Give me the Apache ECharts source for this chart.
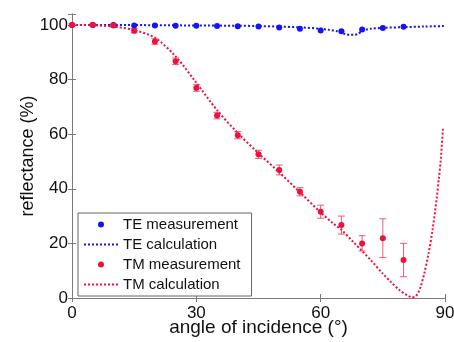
<!DOCTYPE html>
<html>
<head>
<meta charset="utf-8">
<script src="https://cdn.jsdelivr.net/npm/echarts@6/dist/echarts.min.js"></script>
<style>
html,body{margin:0;padding:0;background:#fff;}
#chart{width:454px;height:342px;}
</style>
</head>
<body>
<div id="chart"></div>
<script>
// Measurement angles (degrees)
const measAngles = [0, 5, 10, 15, 20, 25, 30, 35, 40, 45, 50, 55, 60, 65, 70, 75, 80];
// TE measurement (%)
const teMeas = [100, 100, 100, 99.8, 99.8, 99.7, 99.7, 99.6, 99.5, 99.4, 99.1, 98.6, 98.0, 97.7, 98.3, 98.9, 99.3];
// TM measurement (%) and error half-widths
const tmMeas = [100, 100, 99.8, 97.9, 93.9, 86.7, 76.9, 66.8, 59.6, 52.6, 46.9, 38.9, 31.6, 26.7, 20.0, 21.9, 13.9];
const tmErr = [0.4, 0.4, 0.5, 0.8, 1.0, 1.2, 1.2, 1.2, 1.3, 1.5, 1.8, 1.5, 2.4, 3.3, 2.8, 7.1, 6.1];
// TE calculation
const teCalcAngles = [0, 10, 20, 30, 40, 45, 50, 55, 60, 62, 64, 65, 66, 67, 68, 69, 70, 71, 72, 75, 80, 85, 90];
const teCalc = [100, 100, 99.9, 99.8, 99.7, 99.6, 99.4, 99.1, 98.6, 98.2, 97.7, 97.2, 96.6, 96.4, 96.4, 96.7, 97.8, 98.3, 98.6, 98.9, 99.2, 99.4, 99.6];
// TM calculation
const tmCalcAngles = [0, 5, 10, 15, 20, 25, 30, 35, 40, 45, 50, 55, 60, 63, 65, 68, 70, 72, 75, 77, 79, 80, 81, 82, 83, 84, 85, 86, 87, 88, 88.5, 89, 89.5];
const tmCalc = [100, 99.9, 99.4, 98.1, 95.3, 88.5, 78.8, 68.8, 60.4, 53.0, 46.0, 38.7, 31.3, 27.3, 25.0, 20.3, 17.2, 14.0, 8.9, 5.8, 2.9, 1.8, 0.9, 0.3, 0.7, 3.6, 9.0, 16.0, 25.0, 36.5, 43.5, 51.0, 62.0];
// Axis ticks
const xTicks = [0, 30, 60, 90];
const yTicks = [0, 20, 40, 60, 80, 100];

const RED = '#f0103c';
const BLUE = '#1414f5';
const FONT = '"Liberation Sans", Arial, sans-serif';

const pairs = (xs, ys) => xs.map((x, i) => [x, ys[i]]);
const errData = measAngles.map((x, i) => [x, tmMeas[i] - tmErr[i], tmMeas[i] + tmErr[i]]);

const chart = echarts.init(document.getElementById('chart'), null, {renderer: 'canvas'});

const axisLineStyle = {color: '#7a7a7a', width: 1};

chart.setOption({
  animation: false,
  backgroundColor: '#ffffff',
  grid: {left: 72, right: 9, top: 14, bottom: 44, containLabel: false, outerBoundsMode: 'none'},
  legend: {
    orient: 'vertical',
    left: 78,
    top: 213,
    padding: [4, 11, 4, 5],
    itemWidth: 34,
    itemHeight: 6,
    itemGap: 5,
    borderColor: '#666',
    borderWidth: 1,
    backgroundColor: '#fff',
    textStyle: {fontFamily: FONT, fontSize: 15, color: '#111', lineHeight: 14},
    data: [
      {name: 'TE measurement', icon: 'circle'},
      {name: 'TE calculation', itemStyle: {opacity: 0}},
      {name: 'TM measurement', icon: 'circle'},
      {name: 'TM calculation', itemStyle: {opacity: 0}}
    ]
  },
  xAxis: [{
    type: 'value',
    min: 0, max: 90, interval: 30,
    name: 'angle of incidence (°)',
    nameLocation: 'middle',
    nameGap: 20,
    nameMoveOverlap: false,
    nameTextStyle: {fontFamily: FONT, fontSize: 19, color: '#111'},
    axisLine: {show: true, lineStyle: axisLineStyle},
    axisTick: {show: true, inside: true, length: 4, lineStyle: axisLineStyle},
    axisLabel: {fontFamily: FONT, fontSize: 17, color: '#111', margin: 7,
      formatter: v => xTicks.includes(v) ? String(v) : ''},
    splitLine: {show: false}
  }, {
    type: 'value', position: 'top',
    min: 0, max: 90, interval: 30,
    axisLine: {show: true, lineStyle: axisLineStyle},
    axisTick: {show: true, inside: true, length: 4, lineStyle: axisLineStyle},
    axisLabel: {show: false},
    splitLine: {show: false}
  }],
  yAxis: [{
    type: 'value',
    min: 0, max: 104, interval: 20,
    name: 'reflectance (%)',
    nameLocation: 'middle',
    nameGap: 35,
    nameMoveOverlap: false,
    nameTextStyle: {fontFamily: FONT, fontSize: 18, color: '#111'},
    axisLine: {show: true, lineStyle: axisLineStyle},
    axisTick: {show: true, inside: true, length: 4, lineStyle: axisLineStyle},
    axisLabel: {fontFamily: FONT, fontSize: 17, color: '#111', margin: 4,
      formatter: v => yTicks.includes(v) ? String(v) : ''},
    splitLine: {show: false}
  }, {
    type: 'value', position: 'right',
    min: 0, max: 104, interval: 20,
    axisLine: {show: true, lineStyle: axisLineStyle},
    axisTick: {show: true, inside: true, length: 4, lineStyle: axisLineStyle},
    axisLabel: {show: false},
    splitLine: {show: false}
  }],
  series: [
    {
      name: 'TE measurement',
      type: 'scatter',
      data: pairs(measAngles, teMeas),
      symbol: 'circle',
      symbolSize: 6,
      itemStyle: {color: BLUE, opacity: 1},
      z: 3
    },
    {
      name: 'TE calculation',
      type: 'line',
      data: pairs(teCalcAngles, teCalc),
      symbol: 'none',
      smooth: 0.3,
      lineStyle: {color: BLUE, width: 2, type: 'dotted'},
      itemStyle: {color: BLUE},
      z: 4
    },
    {
      name: 'TM error',
      type: 'custom',
      data: errData,
      encode: {x: 0, y: [1, 2]},
      renderItem: function (params, api) {
        const x = api.value(0);
        const lo = api.coord([x, api.value(1)]);
        const hi = api.coord([x, api.value(2)]);
        const w = 3.5;
        const st = {stroke: 'rgba(232,40,80,0.75)', lineWidth: 1};
        return {
          type: 'group',
          children: [
            {type: 'line', shape: {x1: lo[0], y1: lo[1], x2: hi[0], y2: hi[1]}, style: st},
            {type: 'line', shape: {x1: lo[0] - w, y1: lo[1], x2: lo[0] + w, y2: lo[1]}, style: st},
            {type: 'line', shape: {x1: hi[0] - w, y1: hi[1], x2: hi[0] + w, y2: hi[1]}, style: st}
          ]
        };
      },
      z: 5
    },
    {
      name: 'TM measurement',
      type: 'scatter',
      data: pairs(measAngles, tmMeas),
      symbol: 'circle',
      symbolSize: 6,
      itemStyle: {color: RED, opacity: 1},
      z: 6
    },
    {
      name: 'TM calculation',
      type: 'line',
      data: pairs(tmCalcAngles, tmCalc),
      symbol: 'none',
      smooth: 0.3,
      lineStyle: {color: RED, width: 2, type: 'dotted'},
      itemStyle: {color: RED},
      z: 7
    }
  ]
});
</script>
</body>
</html>
